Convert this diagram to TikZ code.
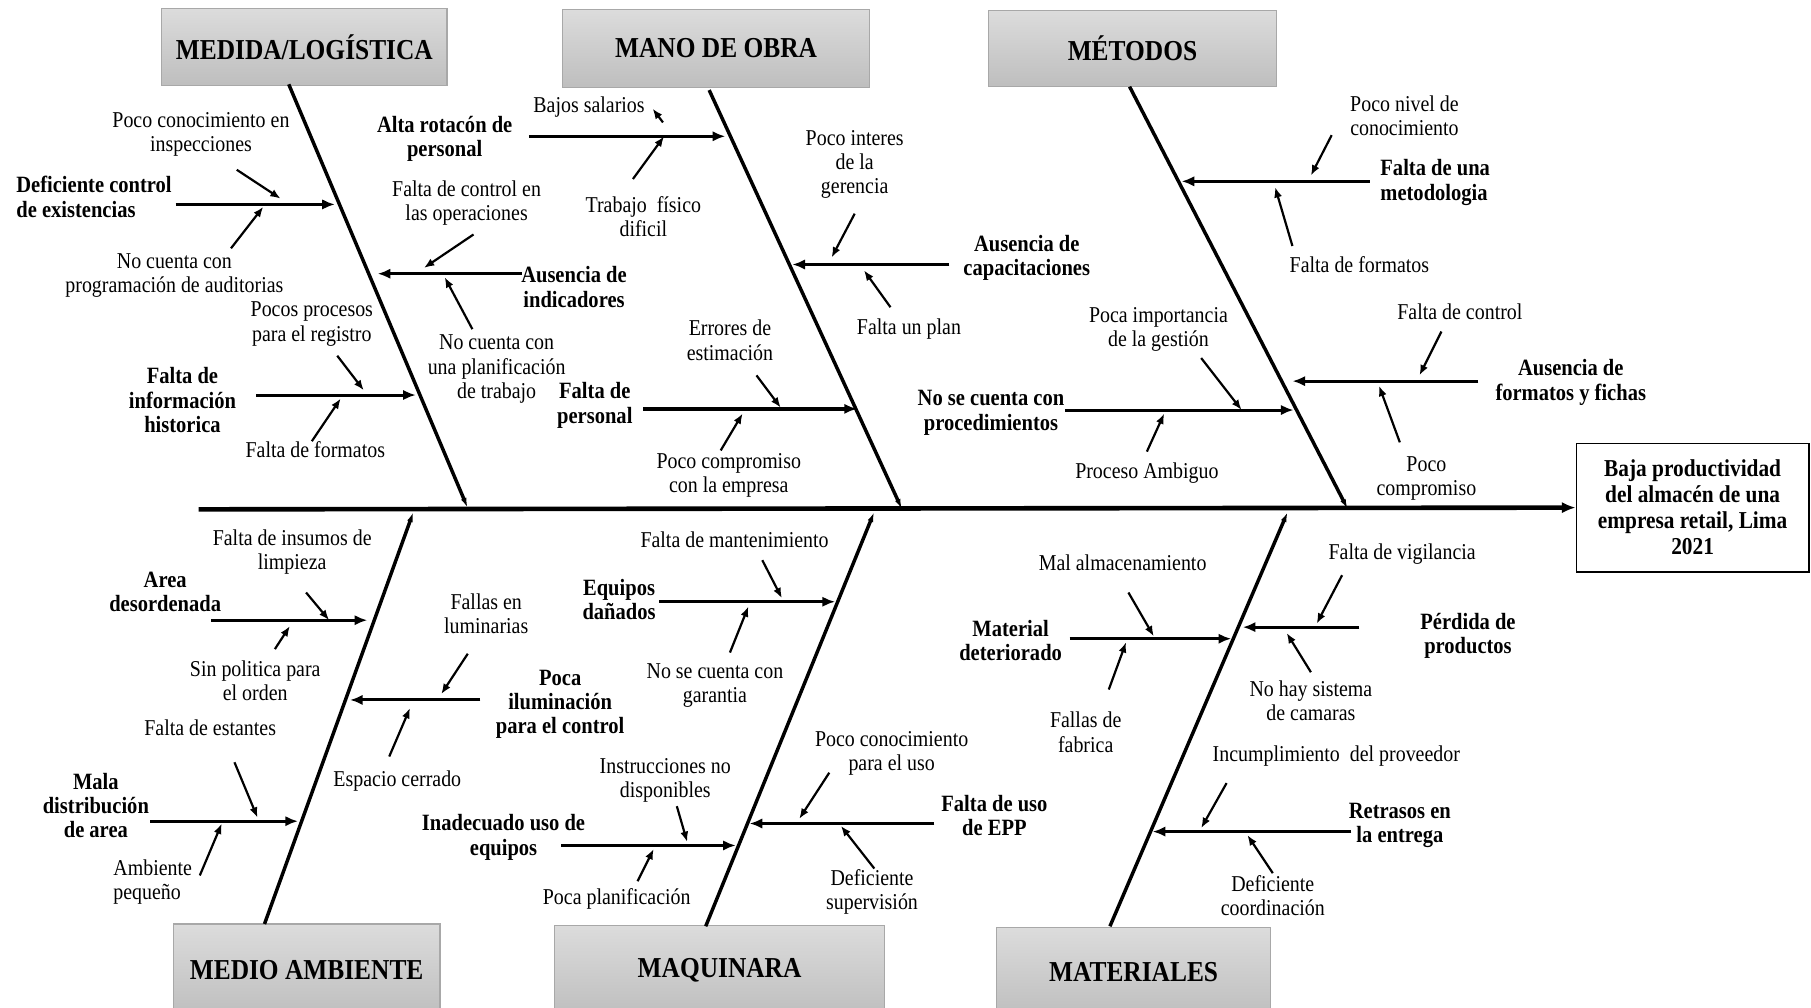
\documentclass[tikz,border=0pt]{standalone}
\usepackage{fontspec}
\setmainfont[FakeStretch=0.88]{Liberation Serif}
\usetikzlibrary{arrows.meta}
\definecolor{boxtop}{HTML}{DCDCDC}
\definecolor{boxbot}{HTML}{BEBEBE}
\definecolor{boxline}{HTML}{A8A8A8}
\tikzset{
  x=1pt, y=-1pt,
  reg/.style={inner sep=0pt, align=center, font=\fontsize{19.6}{21}\selectfont},
  bld/.style={inner sep=0pt, align=center, font=\fontsize{20.2}{21}\selectfont\bfseries},
  titlebox/.style={draw=boxline, line width=1pt, top color=boxtop, bottom color=boxbot,
    inner sep=0pt, font=\fontsize{25}{28}\selectfont\bfseries},
  effectbox/.style={draw=black, line width=1.6pt, fill=white, inner sep=0pt,
    align=center, font=\fontsize{21}{22.5}\selectfont\bfseries},
  spine/.style={line width=4pt, -{Latex[length=12pt,width=10pt]}},
  bone/.style={line width=3pt, -{Latex[length=9pt,width=5pt]}},
  rib/.style={line width=2.6pt, -{Latex[length=11pt,width=9pt]}},
  sub/.style={line width=1.9pt, -{Latex[length=9pt,width=7pt]}}
}
\begin{document}
\begin{tikzpicture}
\useasboundingbox (0,0) rectangle (1568,872);

% ---- category headers ----
\node[titlebox, minimum width=247pt, minimum height=67pt] (tMed) at (263.5,40.5) {MEDIDA/LOGÍSTICA};
\node[titlebox, minimum width=266pt, minimum height=68pt] (tMan) at (620,42) {MANO DE OBRA};
\node[titlebox, minimum width=249pt, minimum height=66pt] (tMet) at (980.5,42) {MÉTODOS};
\node[titlebox, minimum width=231pt, minimum height=80pt] (tAmb) at (265.5,840) {MEDIO AMBIENTE};
\node[titlebox, minimum width=286pt, minimum height=79pt] (tMaq) at (623,840.5) {MAQUINARA};
\node[titlebox, minimum width=237pt, minimum height=77pt] (tMat) at (981.5,841.5) {MATERIALES};

% ---- effect ----
\node[effectbox, minimum width=201pt, minimum height=111pt] (effect) at (1465.5,439.5)
  {Baja productividad\\del almacén de una\\empresa retail, Lima\\2021};

% ---- spine and main bones ----
\coordinate (tail) at (172,441);
\draw[spine] (tail) -- (effect.west);

\coordinate (bMedA) at (250,73);   \coordinate (bMedB) at (405,440);
\coordinate (bManA) at (614,78);   \coordinate (bManB) at (781,441);
\coordinate (bMetA) at (978,75);   \coordinate (bMetB) at (1167,441);
\coordinate (bAmbA) at (229,800);  \coordinate (bAmbB) at (358,443);
\coordinate (bMaqA) at (611,802);  \coordinate (bMaqB) at (757,443);
\coordinate (bMatA) at (961,802);  \coordinate (bMatB) at (1115,443);
\foreach \b in {Med,Man,Met,Amb,Maq,Mat}
  \draw[bone] (b\b A) -- (b\b B);

% ---- ribs ----
\coordinate (rMed1A) at (152,177);  \coordinate (rMed1B) at (290,177);
\coordinate (rMed2A) at (452,237);  \coordinate (rMed2B) at (327,237);
\coordinate (rMed3A) at (222,342);  \coordinate (rMed3B) at (360,342);
\coordinate (rMan1A) at (458,118);  \coordinate (rMan1B) at (628,118);
\coordinate (rMan2A) at (822,229);  \coordinate (rMan2B) at (686,229);
\coordinate (rMan3A) at (557,354);  \coordinate (rMan3B) at (742,354);
\coordinate (rMet1A) at (1186,157); \coordinate (rMet1B) at (1023,157);
\coordinate (rMet2A) at (1280,330); \coordinate (rMet2B) at (1119,330);
\coordinate (rMet3A) at (922,355);  \coordinate (rMet3B) at (1120,355);
\coordinate (rAmb1A) at (183,537);  \coordinate (rAmb1B) at (318,537);
\coordinate (rAmb2A) at (416,606);  \coordinate (rAmb2B) at (303,606);
\coordinate (rAmb3A) at (130,711);  \coordinate (rAmb3B) at (258,711);
\coordinate (rMaq1A) at (571,521);  \coordinate (rMaq1B) at (723,521);
\coordinate (rMaq2A) at (809,713);  \coordinate (rMaq2B) at (649,713);
\coordinate (rMaq3A) at (486,732);  \coordinate (rMaq3B) at (637,732);
\coordinate (rMat1A) at (926,553);  \coordinate (rMat1B) at (1066,553);
\coordinate (rMat2A) at (1177,543); \coordinate (rMat2B) at (1076,543);
\coordinate (rMat3A) at (1170,720); \coordinate (rMat3B) at (998,720);
\foreach \r in {Med1,Med2,Med3,Man1,Man2,Met1,Met2,Met3,Amb1,Amb2,Amb3,Maq1,Maq2,Maq3,Mat1,Mat2,Mat3}
  \draw[rib] (r\r A) -- (r\r B);
\draw[rib, line width=3.2pt] (rMan3A) -- (rMan3B);

% ---- secondary cause arrows ----
\coordinate (sMed1aA) at (205,147);  \coordinate (sMed1aB) at (243,172);
\coordinate (sMed1bA) at (200,215);  \coordinate (sMed1bB) at (228,179);
\coordinate (sMed2aA) at (410,203);  \coordinate (sMed2aB) at (367,232);
\coordinate (sMed2bA) at (409,285);  \coordinate (sMed2bB) at (385,240);
\coordinate (sMed3aA) at (292,308);  \coordinate (sMed3aB) at (315,338);
\coordinate (sMed3bA) at (270,382);  \coordinate (sMed3bB) at (295,345);
\coordinate (sMan1aA) at (574,106);  \coordinate (sMan1aB) at (565,94);
\coordinate (sMan1bA) at (548,155);  \coordinate (sMan1bB) at (575,118);
\coordinate (sMan2aA) at (740,185);  \coordinate (sMan2aB) at (720,223);
\coordinate (sMan2bA) at (771,266);  \coordinate (sMan2bB) at (748,234);
\coordinate (sMan3aA) at (655,325);  \coordinate (sMan3aB) at (676,353);
\coordinate (sMan3bA) at (624,390);  \coordinate (sMan3bB) at (643,358);
\coordinate (sMet1aA) at (1153,117); \coordinate (sMet1aB) at (1135,152);
\coordinate (sMet1bA) at (1119,213); \coordinate (sMet1bB) at (1104,162);
\coordinate (sMet2aA) at (1248,287); \coordinate (sMet2aB) at (1229,325);
\coordinate (sMet2bA) at (1212,383); \coordinate (sMet2bB) at (1194,334);
\coordinate (sMet3aA) at (1040,310); \coordinate (sMet3aB) at (1075,355);
\coordinate (sMet3bA) at (993,391);  \coordinate (sMet3bB) at (1008,358);
\coordinate (sAmb1aA) at (265,513);  \coordinate (sAmb1aB) at (285,537);
\coordinate (sAmb1bA) at (238,562);  \coordinate (sAmb1bB) at (251,542);
\coordinate (sAmb2aA) at (405,566);  \coordinate (sAmb2aB) at (382,601);
\coordinate (sAmb2bA) at (337,655);  \coordinate (sAmb2bB) at (355,613);
\coordinate (sAmb3aA) at (203,660);  \coordinate (sAmb3aB) at (223,708);
\coordinate (sAmb3bA) at (173,758);  \coordinate (sAmb3bB) at (192,713);
\coordinate (sMaq1aA) at (660,485);  \coordinate (sMaq1aB) at (677,518);
\coordinate (sMaq1bA) at (632,565);  \coordinate (sMaq1bB) at (648,525);
\coordinate (sMaq2aA) at (718,669);  \coordinate (sMaq2aB) at (692,709);
\coordinate (sMaq2bA) at (757,752);  \coordinate (sMaq2bB) at (728,715);
\coordinate (sMaq3aA) at (586,698);  \coordinate (sMaq3aB) at (595,729);
\coordinate (sMaq3bA) at (552,763);  \coordinate (sMaq3bB) at (566,735);
\coordinate (sMat1aA) at (977,513);  \coordinate (sMat1aB) at (999,551);
\coordinate (sMat1bA) at (960,597);  \coordinate (sMat1bB) at (975,556);
\coordinate (sMat2aA) at (1162,498); \coordinate (sMat2aB) at (1140,540);
\coordinate (sMat2bA) at (1135,582); \coordinate (sMat2bB) at (1114,548);
\coordinate (sMat3aA) at (1062,678); \coordinate (sMat3aB) at (1040,717);
\coordinate (sMat3bA) at (1102,756); \coordinate (sMat3bB) at (1080,723);
\foreach \s in {Med1a,Med1b,Med2a,Med2b,Med3a,Med3b,Man1a,Man1b,Man2a,Man2b,Man3a,Man3b,
                Met1a,Met1b,Met2a,Met2b,Met3a,Met3b,Amb1a,Amb1b,Amb2a,Amb2b,Amb3a,Amb3b,
                Maq1a,Maq1b,Maq2a,Maq2b,Maq3a,Maq3b,Mat1a,Mat1b,Mat2a,Mat2b,Mat3a,Mat3b}
  \draw[sub] (s\s A) -- (s\s B);

% ---- labels: Medida / Logística ----
\node[bld, anchor=west, align=left] (lMed1) at (14,170.5) {Deficiente control\\de existencias};
\node[reg] (lMed1a) at (174,116.5) {Poco conocimiento en\\inspecciones};
\node[reg] (lMed1b) at (151,238.5) {No cuenta con\\programación de auditorias};
\node[bld] (lMed2) at (497,248.5) {Ausencia de\\indicadores};
\node[reg] (lMed2a) at (404,175.5) {Falta de control en\\las operaciones};
\node[reg] (lMed2b) at (430,319.5) {No cuenta con\\una planificación\\de trabajo};
\node[bld] (lMed3) at (158,346.5) {Falta de\\información\\historica};
\node[reg] (lMed3a) at (270,280.5) {Pocos procesos\\para el registro};
\node[reg] (lMed3b) at (273,389) {Falta de formatos};

% ---- labels: Mano de obra ----
\node[bld] (lMan1) at (385,120.5) {Alta rotacón de\\personal};
\node[reg] (lMan1a) at (510,93) {Bajos salarios};
\node[reg] (lMan1b) at (557,187.5) {Trabajo\ \ físico\\dificil};
\node[bld] (lMan2) at (889,223) {Ausencia de\\capacitaciones};
\node[reg] (lMan2a) at (740,142.5) {Poco interes\\de la\\gerencia};
\node[reg] (lMan2b) at (787,285) {Falta un plan};
\node[bld] (lMan3) at (515,351) {Falta de\\personal};
\node[reg] (lMan3a) at (632,294.5) {Errores de\\estimación};
\node[reg] (lMan3b) at (631,411.5) {Poco compromiso\\con la empresa};

% ---- labels: Métodos ----
\node[bld, anchor=west, align=left] (lMet1) at (1195,158) {Falta de una\\metodologia};
\node[reg] (lMet1a) at (1216,100.5) {Poco nivel de\\conocimiento};
\node[reg] (lMet1b) at (1177,229) {Falta de formatos};
\node[bld] (lMet2) at (1360,331) {Ausencia de\\formatos y fichas};
\node[reg] (lMet2a) at (1264,270) {Falta de control};
\node[reg] (lMet2b) at (1235,414.5) {Poco\\compromiso};
\node[bld] (lMet3) at (858,357.5) {No se cuenta con\\procedimientos};
\node[reg] (lMet3a) at (1003,285) {Poca importancia\\de la gestión};
\node[reg] (lMet3b) at (993,410) {Proceso Ambiguo};

% ---- labels: Medio ambiente ----
\node[bld] (lAmb1) at (143,512.5) {Area\\desordenada};
\node[reg] (lAmb1a) at (253,478) {Falta de insumos de\\limpieza};
\node[reg] (lAmb1b) at (221,589.5) {Sin politica para\\el orden};
\node[bld] (lAmb2) at (485,610) {Poca\\iluminación\\para el control};
\node[reg] (lAmb2a) at (421,531.5) {Fallas en\\luminarias};
\node[reg] (lAmb2b) at (344,676) {Espacio cerrado};
\node[bld] (lAmb3) at (83,697.5) {Mala\\distribución\\de area};
\node[reg] (lAmb3a) at (182,630) {Falta de estantes};
\node[reg, anchor=west, align=left] (lAmb3b) at (98,763.5) {Ambiente\\pequeño};

% ---- labels: Maquinara ----
\node[bld] (lMaq1) at (536,519) {Equipos\\dañados};
\node[reg] (lMaq1a) at (636,467) {Falta de mantenimiento};
\node[reg] (lMaq1b) at (619,593.5) {No se cuenta con\\garantia};
\node[bld] (lMaq2) at (861,706) {Falta de uso\\de EPP};
\node[reg] (lMaq2a) at (772,652) {Poco conocimiento\\para el uso};
\node[reg] (lMaq2b) at (755,772.5) {Deficiente\\supervisión};
\node[bld] (lMaq3) at (436,725) {Inadecuado uso de\\equipos};
\node[reg] (lMaq3a) at (576,676) {Instrucciones no\\disponibles};
\node[reg] (lMaq3b) at (534,778) {Poca planificación};

% ---- labels: Materiales ----
\node[bld] (lMat1) at (875,554.5) {Material\\deteriorado};
\node[reg] (lMat1a) at (972,487) {Mal almacenamiento};
\node[reg] (lMat1b) at (940,634) {Fallas de\\fabrica};
\node[bld] (lMat2) at (1271,550.5) {Pérdida de\\productos};
\node[reg] (lMat2a) at (1214,480) {Falta de vigilancia};
\node[reg] (lMat2b) at (1135,606.5) {No hay sistema\\de camaras};
\node[bld] (lMat3) at (1212,714.5) {Retrasos en\\la entrega};
\node[reg] (lMat3a) at (1157,655) {Incumplimiento\ \ del proveedor};
\node[reg] (lMat3b) at (1102,775.5) {Deficiente\\coordinación};
\end{tikzpicture}
\end{document}
